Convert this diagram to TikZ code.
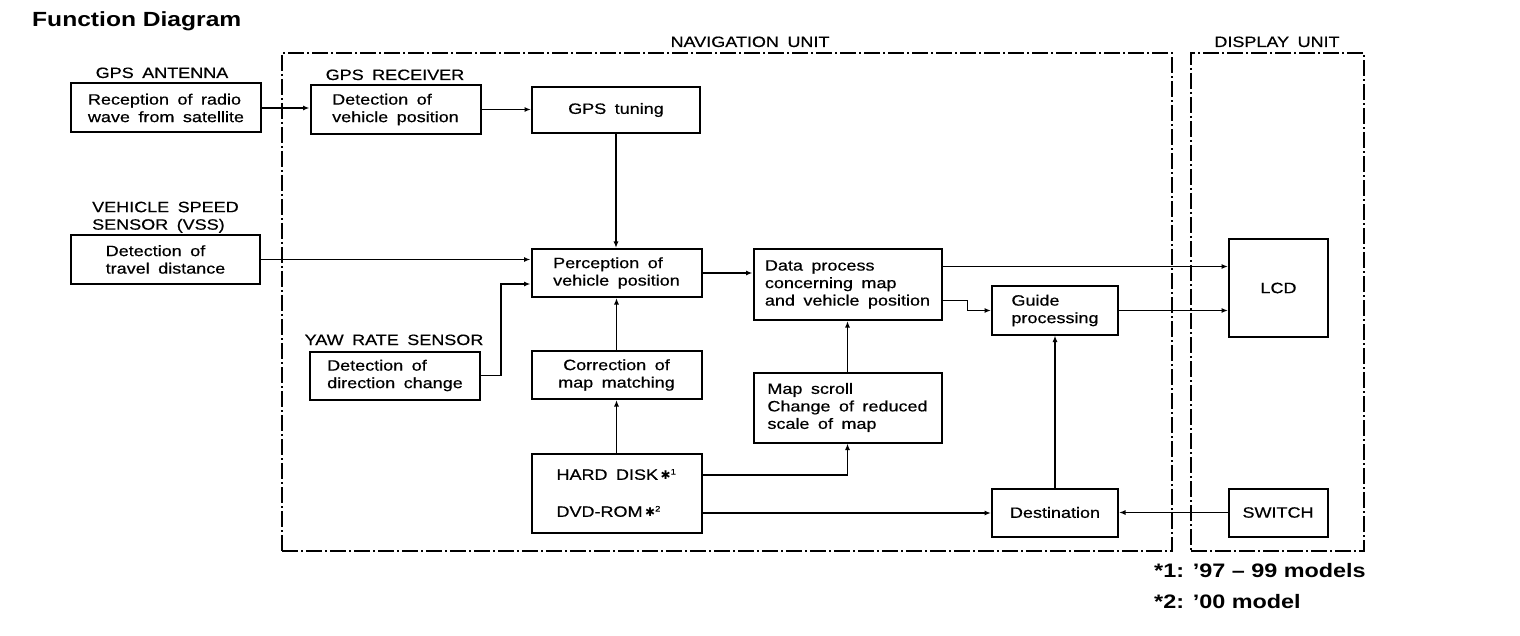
\documentclass[tikz,border=0pt]{standalone}
\usepackage{fontspec}
\setmainfont[FakeStretch=1.2,WordSpace=1.7,FakeBold=0.5]{Liberation Sans}
\newfontfamily\headfont[FakeStretch=1.2]{Liberation Sans}
\newfontfamily\symfont{DejaVu Sans}
\usetikzlibrary{arrows.meta}
\begin{document}
\begin{tikzpicture}[x=1pt,y=-1pt,
  font=\fontsize{15}{17.5}\selectfont,
  box/.style={draw, line width=2pt, inner sep=0pt, align=left},
  arr/.style={line width=1.4pt, -{Latex[length=6.5pt,width=5pt]}},
  unit/.style={draw, line width=1.5pt, dash pattern=on 16pt off 3pt on 2pt off 3pt, inner sep=0pt},
  lbl/.style={anchor=base, inner sep=0pt},
  foot/.style={anchor=base west, inner sep=0pt, font=\headfont\bfseries\fontsize{19.5}{22}\selectfont}]
\useasboundingbox (0,0) rectangle (1520,636);
\fill[white] (0,0) rectangle (1520,636);

% title
\node[anchor=base west, inner sep=0pt, font=\headfont\bfseries\fontsize{20.5}{24}\selectfont] (title) at (32,27) {Function Diagram};

% units
\node[unit, minimum width=890pt, minimum height=498pt] (nav) at (727,302) {};
\node[unit, minimum width=173pt, minimum height=498pt] (disp) at (1277.5,302) {};
\node[lbl] (navl) at (750,47) {NAVIGATION UNIT};
\node[lbl] (displ) at (1277,47) {DISPLAY UNIT};

% captions
\node[lbl] (antl) at (162,78) {GPS ANTENNA};
\node[lbl] (recl) at (395,80) {GPS RECEIVER};
\node[anchor=north west, inner sep=0pt, align=left] (vssl) at (92,201.5) {VEHICLE SPEED\\SENSOR (VSS)};
\node[lbl] (yawl) at (394,345) {YAW RATE SENSOR};

% boxes
\node[box, minimum width=190pt, minimum height=49pt] (rec) at (166,108) {Reception of radio\\wave from satellite};
\node[box, minimum width=170pt, minimum height=49pt] (gpsrec) at (395.5,109.5) {Detection of\\vehicle position};
\node[box, minimum width=168pt, minimum height=46pt] (tuning) at (616,110) {GPS tuning};
\node[box, minimum width=189pt, minimum height=49pt] (vss) at (165.5,259.5) {Detection of\\travel distance};
\node[box, minimum width=170pt, minimum height=48pt] (perc) at (616.5,273) {Perception of\\vehicle position};
\node[box, minimum width=188pt, minimum height=71pt] (data) at (847.5,284.5) {Data process\\concerning map\\and vehicle position};
\node[box, minimum width=126pt, minimum height=48pt] (guide) at (1055,310.5) {Guide\\processing};
\node[box, minimum width=99pt, minimum height=98pt, align=center] (lcd) at (1278.5,288) {LCD};
\node[box, minimum width=170pt, minimum height=48pt] (yaw) at (395,375.5) {Detection of\\direction change};
\node[box, minimum width=170pt, minimum height=48pt, align=center] (corr) at (616.5,375) {Correction of\\map matching};
\node[box, minimum width=188pt, minimum height=70pt] (scroll) at (847.5,407.5) {Map scroll\\Change of reduced\\scale of map};
\node[box, minimum width=170pt, minimum height=79pt] (disk) at (616.5,493) {HARD DISK\,{\symfont\fontsize{12}{14}\selectfont ✱}\textsuperscript{\fontsize{8}{9}\selectfont 1}\\[19.5pt]DVD-ROM\,{\symfont\fontsize{12}{14}\selectfont ✱}\textsuperscript{\fontsize{8}{9}\selectfont 2}};
\node[box, minimum width=126pt, minimum height=48pt, align=center] (dest) at (1055,512.5) {Destination};
\node[box, minimum width=99pt, minimum height=48pt, align=center] (switch) at (1278,512.5) {SWITCH};

% connectors
\draw[arr] (rec.east) -- (rec.east -| gpsrec.west);
\draw[arr] (gpsrec.east) -- (gpsrec.east -| tuning.west);
\draw[arr] (tuning.south) -- (tuning.south |- perc.north);
\draw[arr] (vss.east) -- (vss.east -| perc.west);
\draw[arr] (yaw.east) -- ++(20,0) |- ([yshift=-11pt]perc.west);
\draw[arr] (corr.north) -- (perc.south);
\draw[arr] (disk.north) -- (corr.south);
\draw[arr] (perc.east) -- (perc.east -| data.west);
\draw[arr] ([yshift=18pt]data.east) -- ([yshift=18pt]data.east -| lcd.west);
\draw[arr] ([yshift=-16pt]data.east) -- ++(25,0) |- (guide.west);
\draw[arr] (guide.east) -- (guide.east -| lcd.west);
\draw[arr] (scroll.north) -- (data.south);
\draw[arr] ([yshift=18pt]disk.east) -| (scroll.south);
\draw[arr] ([yshift=-20pt]disk.east) -- ([yshift=-20pt]disk.east -| dest.west);
\draw[arr] (dest.north) -- (guide.south);
\draw[arr] (switch.west) -- (dest.east);

% footnotes
\node[foot] (fn1) at (1154,577) {*1: ’97 – 99 models};
\node[foot] (fn2) at (1154,608) {*2: ’00 model};
\end{tikzpicture}
\end{document}
